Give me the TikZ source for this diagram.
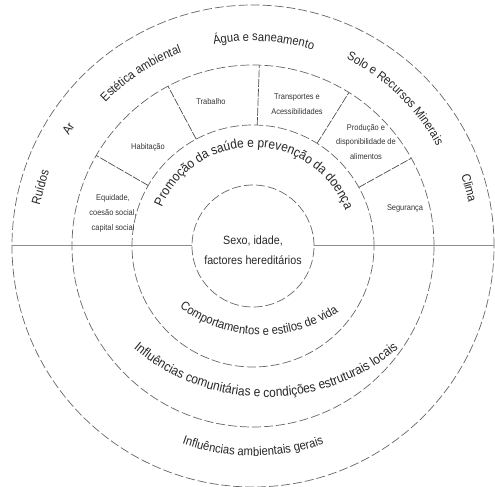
\documentclass[tikz,border=0pt]{standalone}
\usepackage{fontspec}
\setmainfont{Liberation Sans}[FakeStretch=0.9]
\usetikzlibrary{calc,decorations.text}
\newcommand\biglbl{\fontsize{12.5}{14}\selectfont}
\newcommand\widelbl{\fontsize{13.3}{15}\selectfont}
\newcommand\smalllbl{\fontsize{8.3}{15}\selectfont}

\begin{document}
\begin{tikzpicture}[x=1bp, y=1bp, line width=0.7bp,
    ring/.style={black!60, dash pattern=on 9bp off 3bp},
    divider/.style={black!70, dash pattern=on 8bp off 1.5bp},
    axis/.style={black!45, line width=1bp},
    sector/.style={black!80, font=\smalllbl, align=center},
    outer/.style={black!85, font=\biglbl},
    curved/.style={decorate, decoration={text along path, text align=center, text color=black!85}}]
  \useasboundingbox (0,0) rectangle (495,487);
  \coordinate (O) at (253,241);
  \coordinate (Cc) at (262,290);
  \coordinate (Ci) at (266,295);
  % anéis
  \foreach \r in {61,121,181,241}
    \draw[ring] (O) circle[radius=\r bp];
  % eixo horizontal
  \coordinate (L) at ($(O)+(180:241bp)$);
  \coordinate (Li) at ($(O)+(180:61bp)$);
  \coordinate (Ri) at ($(O)+(0:61bp)$);
  \coordinate (R) at ($(O)+(0:241bp)$);
  \draw[axis] (L) -- (Li);
  \draw[axis] (Ri) -- (R);
  % divisões do terceiro anel
  \foreach \a in {29,58,88,118,150}
    \draw[divider] ($(O)+(\a:121bp)$) -- ($(O)+(\a:181bp)$);
  % centro
  \node[align=center, black!85, font=\fontsize{12}{20}\selectfont] (core) at (253,237)
    {Sexo, idade,\\factores hereditários};
  % textos curvos
  \path[curved, decoration={text={|\widelbl|Promoção da saúde e prevenção da doença}}]
    ($(O)+(178:99bp)$) arc[start angle=178, end angle=0, radius=99bp];
  \path[curved, decoration={text={|\biglbl|Comportamentos e estilos de vida}}]
    ($(Cc)+(220:138bp)$) arc[start angle=220, end angle=317, radius=138bp];
  \path[curved, decoration={text={|\widelbl|Influências comunitárias e condições estruturais locais}}]
    ($(Ci)+(220:205bp)$) arc[start angle=220, end angle=320, radius=205bp];
  \path[curved, decoration={text={|\biglbl|Influências ambientais gerais}}]
    ($(O)+(240:210bp)$) arc[start angle=240, end angle=300, radius=210bp];
  \path[curved, decoration={text={|\biglbl|Estética ambiental}}]
    ($(O)+(143:206bp)$) arc[start angle=143, end angle=103, radius=206bp];
  \path[curved, decoration={text={|\biglbl|Água e saneamento}}]
    ($(O)+(107:205bp)$) arc[start angle=107, end angle=67, radius=205bp];
  \path[curved, decoration={text={|\biglbl|Solo e Recursos Minerais}}]
    ($(O)+(71:209bp)$) arc[start angle=71, end angle=21, radius=209bp];
  % anel exterior
  \node[outer, rotate=74.5] (ruidos) at ($(O)+(164.5:221bp)$) {Ruídos};
  \node[outer, rotate=57.5] (ar) at ($(O)+(147.5:219bp)$) {Ar};
  \node[outer, rotate=-75] (clima) at ($(O)+(15:224bp)$) {Clima};
  % sectores
  \node[sector] (equidade) at (113,274) {Equidade,\\coesão social,\\capital social};
  \node[sector] (habitacao) at (148,340) {Habitação};
  \node[sector] (trabalho) at (211,385) {Trabalho};
  \node[sector] (transportes) at (297,383) {Transportes e\\Acessibilidades};
  \node[sector] (producao) at (366,345) {Produção e\\disponibilidade de\\alimentos};
  \node[sector] (seguranca) at (405,279) {Segurança};
\end{tikzpicture}
\end{document}
